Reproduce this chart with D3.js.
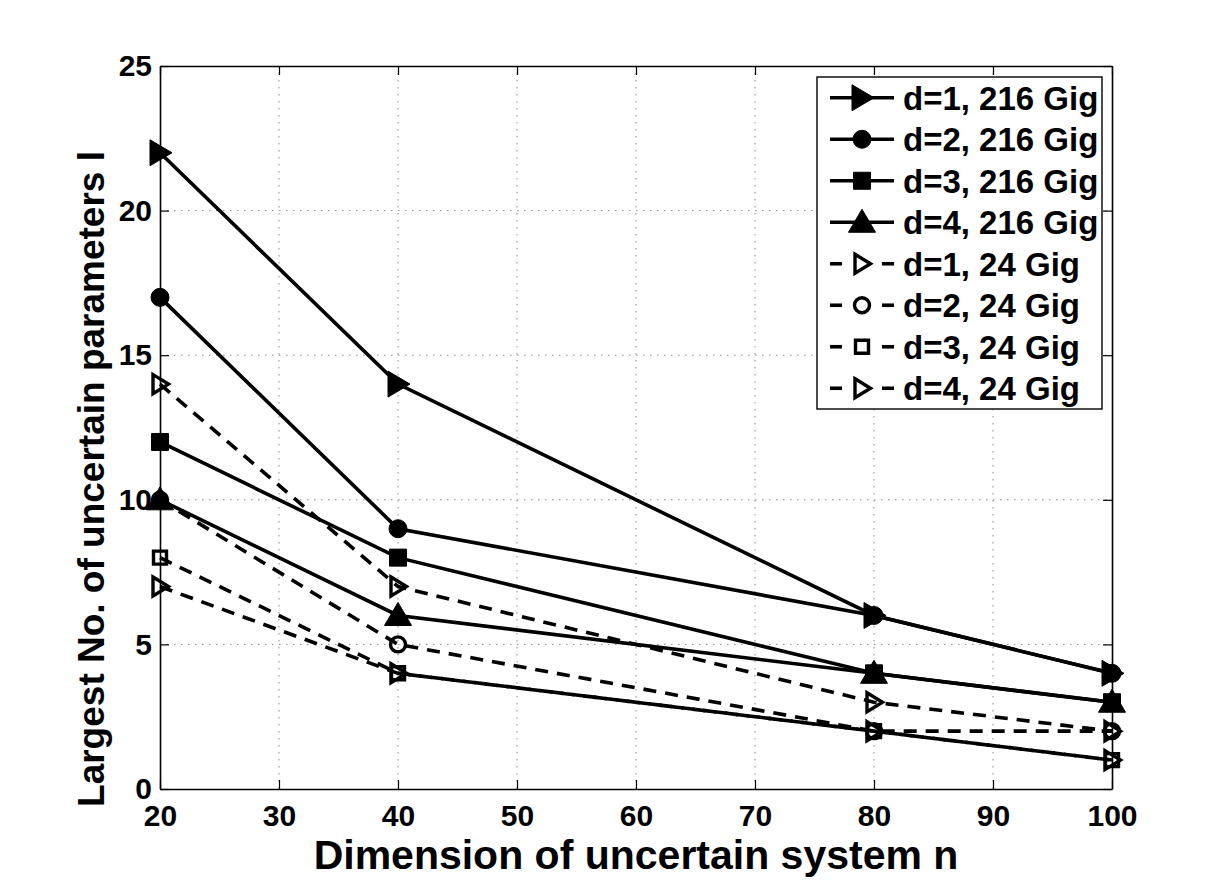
<!DOCTYPE html>
<html>
<head>
<meta charset="utf-8">
<script src="https://cdn.jsdelivr.net/npm/d3@7"></script>
<style>
  html, body { margin: 0; padding: 0; background: #fff; }
  svg { display: block; }
  text { font-family: "Liberation Sans", Arial, Helvetica, sans-serif; font-weight: bold; fill: #000; }
</style>
</head>
<body>
<svg id="chart" width="1228" height="888"></svg>
<script>
// ---------------- data ----------------
const nValues = [20, 40, 80, 100];
const xTicks = [20, 30, 40, 50, 60, 70, 80, 90, 100];
const yTicks = [0, 5, 10, 15, 20, 25];

const d1_216 = [22, 14, 6, 4];
const d2_216 = [17, 9, 6, 4];
const d3_216 = [12, 8, 4, 3];
const d4_216 = [10, 6, 4, 3];
const d1_24 = [14, 7, 3, 2];
const d2_24 = [10, 5, 2, 2];
const d3_24 = [8, 4, 2, 1];
const d4_24 = [7, 4, 2, 1];

const seriesNames = ["d=1, 216 Gig", "d=2, 216 Gig", "d=3, 216 Gig", "d=4, 216 Gig",
                     "d=1, 24 Gig", "d=2, 24 Gig", "d=3, 24 Gig", "d=4, 24 Gig"];
const seriesValues = [d1_216, d2_216, d3_216, d4_216, d1_24, d2_24, d3_24, d4_24];
const seriesMarkers = ["rtri", "circle", "square", "utri", "rtri-o", "circle-o", "square-o", "rtri-o"];
const seriesDashed = [false, false, false, false, true, true, true, true];

const xLabel = "Dimension of uncertain system n";
const yLabel = "Largest No. of uncertain parameters l";

// ---------------- layout ----------------
const L = 160, R = 1112, T = 66, B = 789;
const svg = d3.select("#chart");
const x = d3.scaleLinear().domain([20, 100]).range([L, R]);
const y = d3.scaleLinear().domain([0, 25]).range([B, T]);

// grid
const grid = svg.append("g");
grid.selectAll(".gx").data(xTicks.slice(1, -1)).join("line")
  .attr("x1", d => x(d)).attr("x2", d => x(d)).attr("y1", T).attr("y2", B)
  .attr("stroke", "#8a8a8a").attr("stroke-width", 1).attr("stroke-dasharray", "1.5,5.5");
grid.selectAll(".gy").data(yTicks.slice(1, -1)).join("line")
  .attr("y1", d => y(d)).attr("y2", d => y(d)).attr("x1", L).attr("x2", R)
  .attr("stroke", "#8a8a8a").attr("stroke-width", 1).attr("stroke-dasharray", "1.5,5.5");

// axes (inward ticks, box)
const tk = 9;
const axB = svg.append("g").attr("transform", `translate(0,${B})`)
  .call(d3.axisBottom(x).tickValues(xTicks).tickSizeInner(-tk).tickSizeOuter(0).tickPadding(16).tickFormat(d3.format("d")));
const axT = svg.append("g").attr("transform", `translate(0,${T})`)
  .call(d3.axisTop(x).tickValues(xTicks).tickSizeInner(-tk).tickSizeOuter(0).tickFormat(""));
const axL = svg.append("g").attr("transform", `translate(${L},0)`)
  .call(d3.axisLeft(y).tickValues(yTicks).tickSizeInner(-tk).tickSizeOuter(0).tickPadding(8).tickFormat(d3.format("d")));
const axR = svg.append("g").attr("transform", `translate(${R},0)`)
  .call(d3.axisRight(y).tickValues(yTicks).tickSizeInner(-tk).tickSizeOuter(0).tickFormat(""));
[axB, axT, axL, axR].forEach(a => {
  a.selectAll(".domain").attr("stroke", "#000").attr("stroke-width", 1.6);
  a.selectAll(".tick line").attr("stroke", "#000").attr("stroke-width", 1.2);
  a.selectAll(".tick text").attr("font-family", '"Liberation Sans", Arial, sans-serif')
    .attr("font-weight", "bold").attr("font-size", 30).attr("fill", "#000");
});
axB.selectAll(".tick text").attr("dy", "0.71em");

// axis labels
svg.append("text").attr("x", (L + R) / 2).attr("y", 869)
  .attr("text-anchor", "middle").attr("font-size", 41).text(xLabel);
svg.append("text").attr("transform", `translate(104,479) rotate(-90)`)
  .attr("text-anchor", "middle").attr("font-size", 37).text(yLabel);

// markers
function markerPath(type) {
  switch (type) {
    case "rtri": return "M-10,-13L12,0L-10,13Z";
    case "utri": return "M-13.5,10L0,-13L13.5,10Z";
    case "square": return "M-8.5,-8.5H8.5V8.5H-8.5Z";
    case "circle": return d3.arc()({innerRadius: 0, outerRadius: 9, startAngle: 0, endAngle: 2 * Math.PI});
    case "rtri-o": return "M-7,-9.5L8.5,0L-7,9.5Z";
    case "square-o": return "M-6.5,-6.5H6.5V6.5H-6.5Z";
    case "circle-o": return d3.arc()({innerRadius: 0, outerRadius: 7.5, startAngle: 0, endAngle: 2 * Math.PI});
  }
}
function styleMarker(sel, type) {
  const open = type.endsWith("-o");
  sel.attr("d", markerPath(type))
    .attr("fill", open ? "none" : "#000")
    .attr("stroke", "#000")
    .attr("stroke-width", open ? 3.4 : 1)
    .attr("stroke-linejoin", "miter");
}

const lineGen = d3.line().x((d, i) => x(nValues[i])).y(d => y(d));
const plot = svg.append("g");
seriesValues.forEach((vals, si) => {
  const g = plot.append("g");
  g.append("path").datum(vals).attr("d", lineGen)
    .attr("fill", "none").attr("stroke", "#000").attr("stroke-width", 3.6)
    .attr("stroke-dasharray", seriesDashed[si] ? "13,9" : null);
  g.selectAll("path.m").data(vals).join("path").attr("class", "m")
    .attr("transform", (d, i) => `translate(${x(nValues[i])},${y(d)})`)
    .call(styleMarker, seriesMarkers[si]);
});

// legend
const legL = 817, legR = 1102, legT = 77, legB = 409;
const leg = svg.append("g");
leg.append("rect").attr("x", legL).attr("y", legT).attr("width", legR - legL).attr("height", legB - legT)
  .attr("fill", "#fff").attr("stroke", "#000").attr("stroke-width", 1.4);
const rowH = (legB - legT) / seriesNames.length;
seriesNames.forEach((name, si) => {
  const cy = legT + rowH * (si + 0.5);
  const g = leg.append("g");
  if (seriesDashed[si]) {
    g.append("line").attr("x1", 830).attr("x2", 842).attr("y1", cy).attr("y2", cy)
      .attr("stroke", "#000").attr("stroke-width", 3.6);
    g.append("line").attr("x1", 882).attr("x2", 894).attr("y1", cy).attr("y2", cy)
      .attr("stroke", "#000").attr("stroke-width", 3.6);
  } else {
    g.append("line").attr("x1", 830).attr("x2", 894).attr("y1", cy).attr("y2", cy)
      .attr("stroke", "#000").attr("stroke-width", 3.6);
  }
  g.append("path").attr("transform", `translate(862,${cy})`).call(styleMarker, seriesMarkers[si]);
  g.append("text").attr("x", 903).attr("y", cy).attr("dy", "0.36em")
    .attr("font-size", 33).text(name);
});
</script>
</body>
</html>
